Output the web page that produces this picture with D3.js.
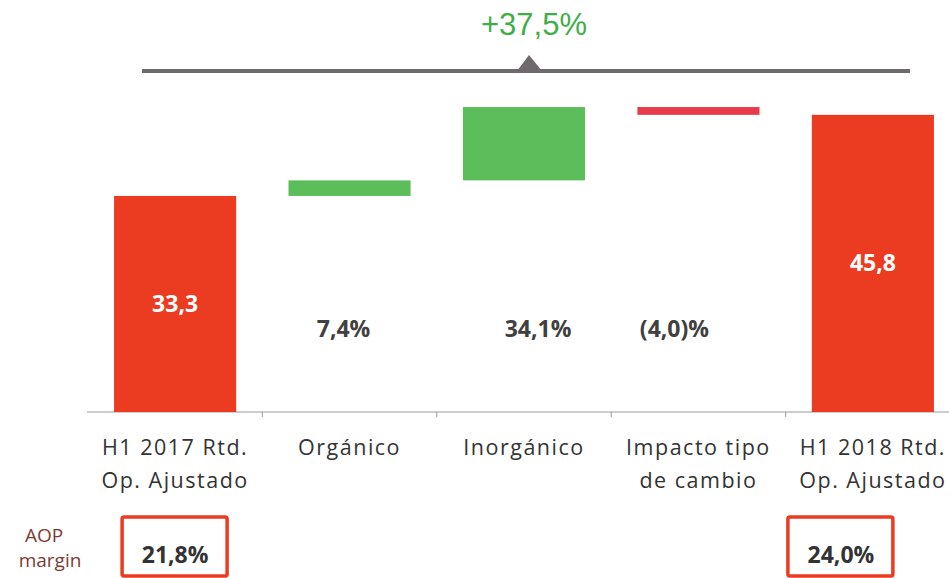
<!DOCTYPE html>
<html>
    <head>
        <meta charset="utf-8">
        <script src="https://d3js.org/d3.v7.min.js"></script>
        <style>
            body { margin: 0; background: #fff; }
            text { font-family: "Open Sans", "Noto Sans", sans-serif; }
        </style>
    </head>

    <body>
        <div id="target"></div>

        <script>
            // chart values
            var categories = [["H1 2017 Rtd.", "Op. Ajustado"], ["Orgánico"], ["Inorgánico"], ["Impacto tipo", "de cambio"], ["H1 2018 Rtd.", "Op. Ajustado"]];
            var kinds = ["total", "delta", "delta", "delta", "total"];
            var values = [33.3, 2.4, 11.3, -1.2, 45.8];
            var valueLabels = ["33,3", "7,4%", "34,1%", "(4,0)%", "45,8"];
            var marginLabels = ["21,8%", null, null, null, "24,0%"];
            var growthLabel = "+37,5%";

            var width = 949, height = 578;

            var svg = d3.select('#target')
                        .append('svg')
                        .attr('width', width)
                        .attr('height', height);

            var x = d3.scaleBand()
                .domain(d3.range(categories.length))
                .range([53, 995])
                .paddingInner(0.3)
                .paddingOuter(0.35);

            var y = d3.scaleLinear()
                .domain([0, 63.5])
                .range([412, 0]);

            // waterfall start / end
            var running = 0;
            var bars = values.map(function(v, i){
                var b;
                if (kinds[i] == "total") {
                    b = {i: i, from: 0, to: v};
                    running = v;
                } else {
                    b = {i: i, from: running, to: running + v};
                    running += v;
                }
                b.kind = kinds[i];
                b.value = v;
                return b;
            });

            function barColor(d){
                if (d.kind == "total") return "#eb3c22";
                return d.value >= 0 ? "#5cbd5b" : "#e83a4a";
            }

            // axis line + ticks between categories
            svg.append('line')
                .attr('x1', 87).attr('x2', width)
                .attr('y1', y(0)).attr('y2', y(0))
                .attr('stroke', '#9a9a9a')
                .attr('stroke-width', 1);

            var step = x.step();
            svg.selectAll('.tick')
                .data(d3.range(categories.length - 1))
                .enter()
                .append('line')
                .attr('class', 'tick')
                .attr('x1', function(i){ return x(i) + x.bandwidth() + step * x.paddingInner() / 2; })
                .attr('x2', function(i){ return x(i) + x.bandwidth() + step * x.paddingInner() / 2; })
                .attr('y1', y(0))
                .attr('y2', y(0) + 5)
                .attr('stroke', '#9a9a9a');

            svg.selectAll('.bar')
                .data(bars)
                .enter()
                .append('rect')
                .attr('class', 'bar')
                .attr('x', function(d){ return x(d.i); })
                .attr('width', x.bandwidth())
                .attr('y', function(d){ return y(Math.max(d.from, d.to)); })
                .attr('height', function(d){ return Math.abs(y(d.from) - y(d.to)); })
                .attr('fill', barColor);

            // labels
            var labelShift = [0, -6, 14, -24, 0];
            svg.selectAll('.vlabel')
                .data(bars)
                .enter()
                .append('text')
                .attr('class', 'vlabel')
                .attr('x', function(d){ return x(d.i) + x.bandwidth() / 2 + labelShift[d.i]; })
                .attr('y', function(d){
                    if (d.kind == "total") return (y(0) + y(d.to)) / 2 + 8;
                    return 337;
                })
                .attr('text-anchor', 'middle')
                .attr('font-size', 23)
                .attr('font-weight', 700)
                .attr('fill', function(d){ return d.kind == "total" ? "#fff" : "#404040"; })
                .text(function(d){ return valueLabels[d.i]; });

            // category names
            var cat = svg.selectAll('.cat')
                .data(categories)
                .enter()
                .append('text')
                .attr('class', 'cat')
                .attr('text-anchor', 'middle')
                .attr('font-size', 21.5)
                .attr('letter-spacing', 1.5)
                .attr('fill', '#333');
            cat.selectAll('tspan')
                .data(function(d, i){ return d.map(function(s){ return {s: s, i: i}; }); })
                .enter()
                .append('tspan')
                .attr('x', function(d){ return x(d.i) + x.bandwidth() / 2; })
                .attr('y', function(d, j){ return 455 + j * 33; })
                .text(function(d){ return d.s; });

            // growth bracket
            svg.append('line')
                .attr('x1', 142).attr('x2', 910)
                .attr('y1', 71).attr('y2', 71)
                .attr('stroke', '#6d696d')
                .attr('stroke-width', 4);
            svg.append('path')
                .attr('d', 'M517,71 L529,55 L542,71 Z')
                .attr('fill', '#6d696d');
            svg.append('text')
                .attr('x', 534)
                .attr('y', 35)
                .attr('text-anchor', 'middle')
                .style('font-family', '"Liberation Sans", Arial, sans-serif')
                .attr('font-size', 31)
                .attr('fill', '#3fae49')
                .text(growthLabel);

            // AOP margin
            svg.append('text')
                .attr('text-anchor', 'middle')
                .attr('font-size', 19)
                .attr('fill', '#7d3a34')
                .selectAll('tspan')
                .data(["AOP", "margin"])
                .enter()
                .append('tspan')
                .attr('x', function(d, j){ return j == 0 ? 44 : 50; })
                .attr('y', function(d, j){ return 542 + j * 25; })
                .text(function(d){ return d; });

            var boxShift = [0, 0, 0, 0, -32];
            var boxes = bars.filter(function(d){ return marginLabels[d.i]; });
            svg.selectAll('.mbox')
                .data(boxes)
                .enter()
                .append('rect')
                .attr('class', 'mbox')
                .attr('x', function(d){ return x(d.i) + x.bandwidth() / 2 + boxShift[d.i] - 53; })
                .attr('y', 517)
                .attr('width', 105)
                .attr('height', 59)
                .attr('rx', 2)
                .attr('fill', 'none')
                .attr('stroke', '#eb3c22')
                .attr('stroke-width', 3.5);
            svg.selectAll('.mtext')
                .data(boxes)
                .enter()
                .append('text')
                .attr('class', 'mtext')
                .attr('x', function(d){ return x(d.i) + x.bandwidth() / 2 + boxShift[d.i]; })
                .attr('y', 563)
                .attr('text-anchor', 'middle')
                .attr('font-size', 23)
                .attr('font-weight', 700)
                .attr('fill', '#333')
                .text(function(d){ return marginLabels[d.i]; });
        </script>
    </body>
</html>
